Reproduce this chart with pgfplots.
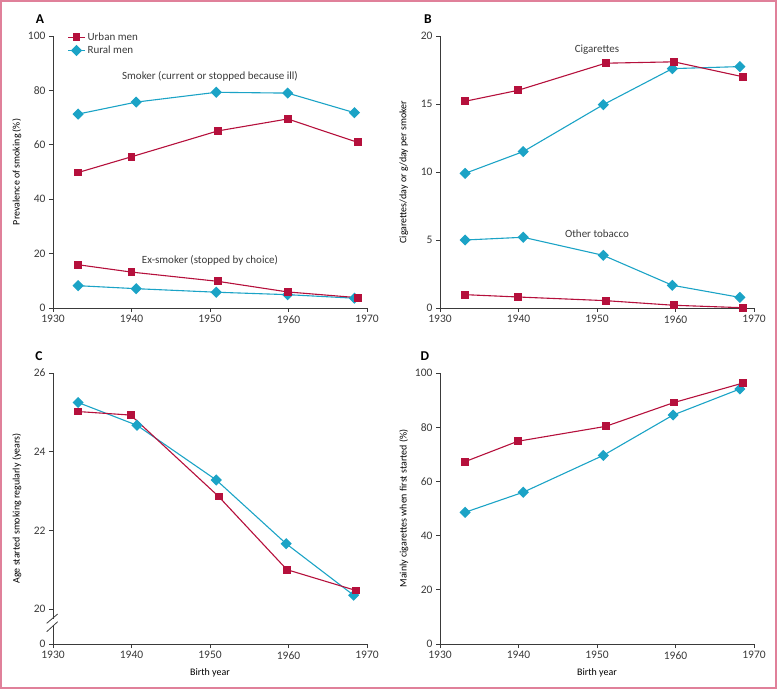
\documentclass[border=0pt]{standalone}
\usepackage{pgfplots}
\pgfplotsset{compat=1.18}
\usepackage{fontspec}
\setmainfont{Carlito}
\definecolor{urban}{HTML}{B5103C}
\definecolor{rural}{HTML}{1BA3C6}
\definecolor{axgray}{HTML}{3A3A3A}
\definecolor{frame}{HTML}{E0809A}
\newcommand{\lf}{\fontsize{11bp}{13bp}\selectfont}
\pgfplotsset{
  panel/.style={
    scale only axis, width=314bp, height=272bp,
    axis lines=left, axis line style={-, axgray, line width=0.8bp},
    tick style={axgray, line width=0.8bp}, major tick length=4bp, tick align=outside,
    xmin=1930, xmax=1970, xtick={1930,1940,...,1970},
    /pgf/number format/assume math mode=true,
    /pgf/number format/1000 sep={},
    tick label style={font=\fontsize{11.5bp}{13bp}\selectfont, text=axgray},
    label style={font=\lf, text=axgray},
    every axis y label/.style={at={(axis description cs:-0.115,0.5)}, rotate=90, anchor=center},
    every axis x label/.style={at={(axis description cs:0.5,-0.107)}, anchor=center},
    clip=false,
  },
  urb/.style={color=urban, line width=1.1bp, mark=square*, mark size=3.4bp, mark options={fill=urban}},
  rur/.style={color=rural, line width=1.1bp, mark=square*, mark size=3.4bp, mark options={fill=rural, rotate=45}},
}
\begin{document}
\begin{tikzpicture}
% Panel A
\begin{axis}[panel, at={(53bp,381bp)}, anchor=south west,
  ymin=0, ymax=100, ytick={0,20,...,100},
  ylabel={Prevalence of smoking (\%)},
  legend style={at={(axis description cs:0.036,1.027)}, anchor=north west, draw=none, fill=none,
    font=\lf, text=axgray, row sep=0bp},
  legend cell align=left]
\addlegendimage{urb}\addlegendentry{Urban men}
\addlegendimage{rur}\addlegendentry{Rural men}
\addplot[rur, forget plot] coordinates {(1933.2,71.3)(1940.6,75.7)(1950.8,79.3)(1959.9,79.0)(1968.4,71.8)};
\addplot[urb, forget plot] coordinates {(1933.2,49.8)(1940.0,55.6)(1951.0,65.1)(1959.9,69.5)(1968.8,60.9)};
\addplot[rur, forget plot] coordinates {(1933.2,8.2)(1940.6,7.1)(1950.8,5.8)(1959.9,4.9)(1968.4,3.6)};
\addplot[urb, forget plot] coordinates {(1933.2,15.9)(1940.0,13.2)(1951.0,9.8)(1959.9,5.9)(1968.8,3.8)};
\node[font=\lf, text=axgray] at (axis cs:1950,85.0) {Smoker (current or stopped because ill)};
\node[font=\lf, text=axgray] at (axis cs:1950,17.6) {Ex-smoker (stopped by choice)};
\end{axis}
% Panel B
\begin{axis}[panel, at={(440bp,381bp)}, anchor=south west,
  ymin=0, ymax=20, ytick={0,5,...,20},
  ylabel={Cigarettes/day or g/day per smoker}]
\addplot[rur] coordinates {(1933.2,9.9)(1940.6,11.5)(1950.8,14.95)(1959.6,17.6)(1968.2,17.75)};
\addplot[urb] coordinates {(1933.2,15.2)(1939.9,16.0)(1951.1,18.0)(1959.8,18.1)(1968.6,17.0)};
\addplot[rur] coordinates {(1933.2,5.0)(1940.6,5.2)(1950.8,3.87)(1959.6,1.67)(1968.2,0.78)};
\addplot[urb] coordinates {(1933.2,0.98)(1939.9,0.81)(1951.1,0.54)(1959.8,0.2)(1968.6,0.02)};
\node[font=\lf, text=axgray] at (axis cs:1950,19.0) {Cigarettes};
\node[font=\lf, text=axgray] at (axis cs:1950,5.49) {Other tobacco};
\end{axis}
% Panel C
\begin{axis}[panel, at={(53bp,45bp)}, anchor=south west, height=271bp,
  ymin=19.11, ymax=26, ytick={19.11,20,22,24,26}, yticklabels={0,20,22,24,26},
  ylabel={Age started smoking regularly (years)}, xlabel={Birth year}]
\addplot[rur] coordinates {(1933.2,25.25)(1940.7,24.67)(1950.8,23.28)(1959.7,21.66)(1968.3,20.35)};
\addplot[urb] coordinates {(1933.2,25.02)(1939.9,24.93)(1951.1,22.86)(1959.8,21.0)(1968.6,20.47)};
\end{axis}
% Panel D
\begin{axis}[panel, at={(440bp,45bp)}, anchor=south west, height=271bp,
  ymin=0, ymax=100, ytick={0,20,...,100},
  ylabel={Mainly cigarettes when first started (\%)}, xlabel={Birth year}]
\addplot[rur] coordinates {(1933.2,48.6)(1940.6,56.0)(1950.8,69.6)(1959.7,84.5)(1968.2,94.1)};
\addplot[urb] coordinates {(1933.2,67.3)(1939.9,74.8)(1951.1,80.3)(1959.8,89.1)(1968.6,96.3)};
\end{axis}
\begin{scope}[x=1bp,y=1bp]
  % axis break in panel C
  \fill[white] (50.5,63.2) rectangle (55.5,69.8);
  \draw[axgray, line width=0.8bp] (46.7,65.7) -- (57.7,75);
  \draw[axgray, line width=0.8bp] (46.7,57.3) -- (57.7,67.3);
  % panel letters
  \node[font=\bfseries\fontsize{13.5bp}{15bp}\selectfont] at (40,670) {A};
  \node[font=\bfseries\fontsize{13.5bp}{15bp}\selectfont] at (428,670) {B};
  \node[font=\bfseries\fontsize{13.5bp}{15bp}\selectfont] at (39,333) {C};
  \node[font=\bfseries\fontsize{13.5bp}{15bp}\selectfont] at (425,333) {D};
  % frame
  \draw[frame, line width=1.6bp] (1,1) rectangle (776,688);
\end{scope}
\pgfresetboundingbox
\path (0,0) rectangle (777bp,689bp);
\end{tikzpicture}
\end{document}
